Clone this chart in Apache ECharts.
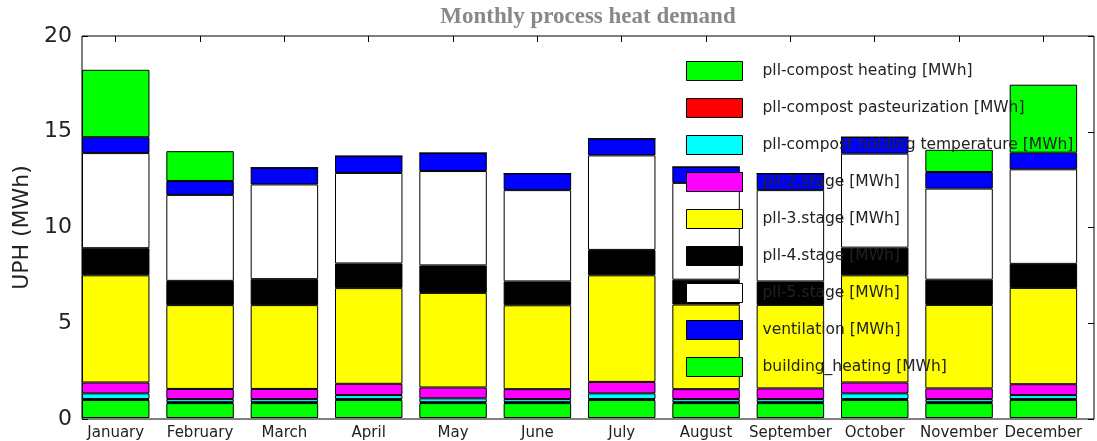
<!DOCTYPE html>
<html>
<head>
<meta charset="utf-8">
<title>Monthly process heat demand</title>
<script src="https://cdn.jsdelivr.net/npm/echarts@6/dist/echarts.min.js"></script>
<style>
  html, body { margin: 0; padding: 0; background: #fff; }
  #chart { width: 1097px; height: 441px; }
</style>
</head>
<body>
<div id="chart"></div>
<script>
// Months on the x axis
const months = ['January', 'February', 'March', 'April', 'May', 'June',
  'July', 'August', 'September', 'October', 'November', 'December'];

// Monthly heat demand per consumer [MWh], stacked bottom to top
const compostHeating        = [0.94, 0.78, 0.78, 0.94, 0.78, 0.78, 0.94, 0.78, 0.78, 0.94, 0.78, 0.94];
const compostPasteurization = [0.05, 0.05, 0.05, 0.05, 0.05, 0.05, 0.05, 0.05, 0.05, 0.05, 0.05, 0.05];
const compostHolding        = [0.30, 0.16, 0.16, 0.21, 0.20, 0.16, 0.30, 0.16, 0.16, 0.30, 0.16, 0.21];
const stage2                = [0.57, 0.53, 0.53, 0.59, 0.57, 0.52, 0.60, 0.52, 0.56, 0.57, 0.56, 0.57];
const stage3                = [5.61, 4.39, 4.39, 5.01, 4.95, 4.39, 5.58, 4.43, 4.37, 5.61, 4.37, 5.04];
const stage4                = [1.42, 1.27, 1.36, 1.29, 1.44, 1.25, 1.33, 1.30, 1.23, 1.45, 1.32, 1.26];
const stage5                = [4.98, 4.50, 4.96, 4.74, 4.94, 4.78, 4.95, 5.07, 4.78, 4.92, 4.77, 4.95];
const ventilation           = [0.83, 0.73, 0.87, 0.88, 0.94, 0.87, 0.87, 0.83, 0.87, 0.86, 0.87, 0.87];
const buildingHeating       = [3.53, 1.56, 0, 0, 0, 0, 0, 0, 0, 0, 1.16, 3.56];

// Y axis range and ticks
const yMin = 0, yMax = 20, yStep = 5;

const seriesDefs = [
  { name: 'pll-compost heating [MWh]',             data: compostHeating,        color: '#00ff00' },
  { name: 'pll-compost pasteurization [MWh]',      data: compostPasteurization, color: '#ff0000' },
  { name: 'pll-compost holding temperature [MWh]', data: compostHolding,        color: '#00ffff' },
  { name: 'pll-2.stage [MWh]',                     data: stage2,                color: '#ff00ff' },
  { name: 'pll-3.stage [MWh]',                     data: stage3,                color: '#ffff00' },
  { name: 'pll-4.stage [MWh]',                     data: stage4,                color: '#000000' },
  { name: 'pll-5.stage [MWh]',                     data: stage5,                color: '#ffffff' },
  { name: 'ventilation [MWh]',                     data: ventilation,           color: '#0000ff' },
  { name: 'building_heating [MWh]',                data: buildingHeating,       color: '#00ff00' }
];

const W = 1097;
const frameLeft = 82, frameRight = 3, frameTop = 36, frameBottom = 22;
// each bar occupies the left 80% of its month slot, so the category grid is shifted left by 10% of a slot
const band = (W - frameLeft - frameRight) / months.length;
const shift = band * 0.1;

const textColor = '#222';
const font = 'DejaVu Sans';

const chart = echarts.init(document.getElementById('chart'), null, { renderer: 'canvas' });

chart.setOption({
  animation: false,
  backgroundColor: '#fff',
  title: {
    text: 'Monthly process heat demand',
    left: frameLeft + (W - frameLeft - frameRight) / 2,
    textAlign: 'center',
    top: 6,
    padding: 0,
    textStyle: { fontFamily: 'Liberation Serif', fontWeight: 'bold', fontSize: 23, color: '#888' }
  },
  legend: {
    orient: 'vertical',
    left: 686,
    top: 61,
    padding: 0,
    itemWidth: 56,
    itemHeight: 19,
    itemGap: 17,
    icon: 'rect',
    itemStyle: { borderColor: '#000', borderWidth: 1 },
    textStyle: { fontFamily: font, fontSize: 15.5, color: textColor, padding: [0, 0, 0, 15] },
    data: seriesDefs.map(s => s.name)
  },
  grid: [
    { // plot frame with the value scales
      left: frameLeft, right: frameRight, top: frameTop, bottom: frameBottom,
      show: true, borderColor: '#000', borderWidth: 1, backgroundColor: 'transparent'
    },
    { // month slots for the bars
      left: frameLeft - shift, right: frameRight + shift, top: frameTop, bottom: frameBottom
    }
  ],
  xAxis: [
    { gridIndex: 0, type: 'value', min: 0, max: months.length, show: false },
    {
      gridIndex: 1, type: 'category', data: months, position: 'bottom',
      axisLine: { show: false },
      axisTick: { show: true, inside: true, alignWithLabel: true, length: 6, lineStyle: { color: '#000' } },
      axisLabel: { fontFamily: font, fontSize: 15, color: textColor, margin: 8, interval: 0 }
    },
    {
      gridIndex: 1, type: 'category', data: months, position: 'top',
      axisLine: { show: false },
      axisTick: { show: true, inside: true, alignWithLabel: true, length: 6, lineStyle: { color: '#000' } },
      axisLabel: { show: false }
    }
  ],
  yAxis: [
    {
      gridIndex: 0, type: 'value', min: yMin, max: yMax, interval: yStep, position: 'left',
      name: 'UPH (MWh)', nameLocation: 'middle', nameGap: 48,
      nameTextStyle: { fontFamily: font, fontSize: 22, color: textColor },
      axisLine: { show: false },
      axisTick: { show: true, inside: true, length: 6, lineStyle: { color: '#000' } },
      axisLabel: { fontFamily: font, fontSize: 22, color: textColor, margin: 10 },
      splitLine: { show: false }
    },
    {
      gridIndex: 0, type: 'value', min: yMin, max: yMax, interval: yStep, position: 'right',
      axisLine: { show: false },
      axisTick: { show: true, inside: true, length: 6, lineStyle: { color: '#000' } },
      axisLabel: { show: false },
      splitLine: { show: false }
    },
    { gridIndex: 1, type: 'value', min: yMin, max: yMax, show: false }
  ],
  series: seriesDefs.map(s => ({
    name: s.name,
    type: 'bar',
    stack: 'heat',
    xAxisIndex: 1,
    yAxisIndex: 2,
    barWidth: '80%',
    data: s.data,
    itemStyle: { color: s.color, borderColor: '#000', borderWidth: 1 },
    emphasis: { disabled: true }
  }))
});
</script>
</body>
</html>
